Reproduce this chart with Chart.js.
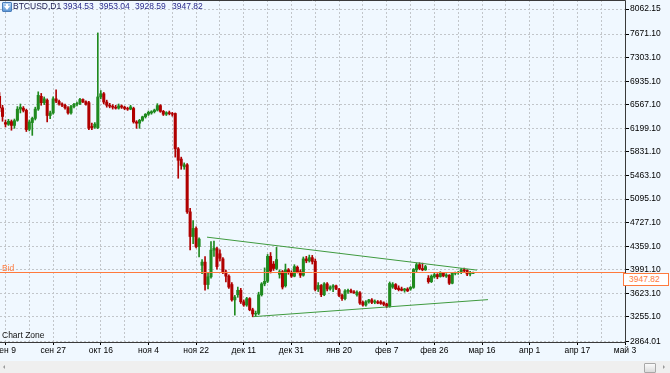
<!DOCTYPE html>
<html><head><meta charset="utf-8">
<script src="https://cdn.jsdelivr.net/npm/chart.js@4.4.1/dist/chart.umd.min.js"></script>
<style>
html,body{margin:0;padding:0;background:#F0F8FF;width:670px;height:373px;overflow:hidden;font-family:"Liberation Sans",Arial,sans-serif;}
#wrap{position:absolute;left:0;top:0;width:670px;height:361px;}
.t{position:absolute;font-size:8.5px;line-height:10px;white-space:nowrap;}
#icon{position:absolute;left:2px;top:2px;width:8px;height:8px;border:1px solid #4a7ebb;border-radius:1px;background:linear-gradient(#b9d6f2,#5d97d6);}
#icon:after{content:"";position:absolute;left:1px;top:3px;border-left:3px solid transparent;border-right:3px solid transparent;border-top:4px solid #fff;}
#icon:before{content:"";position:absolute;left:3px;top:1px;width:2px;height:3px;background:#fff;}
#bidBox{position:absolute;left:623px;border:1px solid #ff7a3d;background:#fff;color:#ff7a3d;font-size:8.5px;line-height:11px;text-align:left;padding-left:5px;box-sizing:border-box;width:46px;height:13px;}
#scroll{position:absolute;left:0;top:361px;width:670px;height:12px;background:#efefef;}
#thumb{position:absolute;left:644px;top:2px;width:10px;height:8px;border:1px solid #a8a8a8;background:linear-gradient(#fafafa,#dcdcdc);border-radius:1px;}
#la{position:absolute;left:3px;top:4px;border-top:2px solid transparent;border-bottom:2px solid transparent;border-right:2px solid #9a9a9a;}
#ra{position:absolute;left:663px;top:4px;border-top:2px solid transparent;border-bottom:2px solid transparent;border-left:2px solid #9a9a9a;}
</style></head>
<body>
<div id="wrap"><canvas id="c"></canvas></div>
<div id="icon"></div>
<div class="t" id="sym" style="left:13px;top:1px;color:#1c1c50;"></div>
<div class="t" id="v0" style="left:63px;top:1px;color:#2a2a8c;"></div>
<div class="t" id="v1" style="left:99px;top:1px;color:#2a2a8c;"></div>
<div class="t" id="v2" style="left:135px;top:1px;color:#2a2a8c;"></div>
<div class="t" id="v3" style="left:172px;top:1px;color:#2a2a8c;"></div>
<div class="t" id="zone" style="left:2px;top:330px;color:#111;">Chart Zone</div>
<div class="t" id="bidLbl" style="left:2px;color:#ff7a3d;">Bid</div>
<div id="bidBox"></div>
<div id="scroll"><div id="la"></div><div id="thumb"></div><div id="ra"></div></div>
<script>
// ---------- data ----------
const symbolName = "BTCUSD,D1";
const firstBar = -1; // bar index of the first value below
const open = [6700,6520,6290,6262,6305,6245,6325,6500,6515,6480,6185,6290,6355,6500,6700,6600,6640,6400,6440,6660,
6620,6580,6560,6520,6440,6540,6575,6590,6650,6615,6600,6230,6220,6210,6690,6740,6610,6560,6545,6530,
6515,6550,6530,6510,6500,6510,6300,6280,6325,6380,6420,6440,6460,6485,6555,6465,6420,6445,6430,6432,
5880,5720,5600,5630,4895,4510,4636,4355,4060,4110,3760,3880,4297,4320,4240,4160,3955,3890,3760,3520,
3600,3670,3490,3440,3540,3365,3300,3310,3600,3770,3810,4200,4080,4010,3920,3960,3740,3990,3950,3890,
4030,3960,3905,4160,4130,4180,4125,3690,3745,3600,3770,3690,3720,3740,3680,3590,3540,3655,3665,3645,
3600,3630,3480,3440,3490,3520,3485,3490,3490,3475,3455,3420,3720,3760,3705,3690,3670,3690,3690,3715,
3990,4070,4010,3990,3860,3805,3880,3915,3885,3935,3890,3905,3780,3935,3945,3950,3990,3980,3925,3934.53];
const high = [6760,6560,6330,6340,6330,6345,6540,6580,6540,6500,6330,6375,6530,6770,6745,6690,6660,6470,6690,6800,
6640,6600,6580,6540,6560,6590,6610,6670,6660,6630,6620,6280,6290,7690,6790,6760,6640,6590,6570,6560,
6580,6565,6545,6530,6560,6530,6320,6340,6390,6430,6470,6475,6500,6585,6570,6480,6460,6470,6450,6440,
5900,5750,5660,5650,4950,4760,4660,4490,4150,4195,3940,4430,4440,4340,4300,4180,3985,3910,3790,3590,
3720,3700,3520,3560,3555,3390,3345,3640,3790,4020,4230,4260,4120,4340,3990,3980,4080,4010,3975,4070,
4050,3990,4190,4200,4220,4215,4160,3790,3760,3790,3790,3740,3760,3750,3700,3610,3680,3690,3690,3665,
3660,3650,3500,3510,3530,3540,3520,3510,3510,3490,3470,3800,3790,3775,3740,3720,3700,3710,3730,4010,
4095,4100,4095,4060,3900,3910,3935,3930,3960,3950,3930,3915,3945,3955,3965,4010,4015,3995,3965,3953.04];
const low = [6460,6310,6220,6245,6170,6200,6310,6440,6455,6150,6160,6090,6330,6480,6560,6570,6300,6350,6420,6600,
6560,6540,6500,6420,6420,6520,6550,6570,6600,6560,6180,6180,6200,6195,6660,6580,6530,6520,6500,6500,
6500,6510,6490,6480,6490,6280,6200,6200,6310,6360,6400,6420,6440,6470,6450,6400,6400,6410,6390,5750,
5420,5560,5560,4870,4300,4400,4330,4190,3930,3670,3690,3860,4200,4000,4130,3930,3800,3700,3500,3282,
3560,3464,3420,3420,3350,3256,3270,3290,3580,3740,3790,3940,3980,3990,3860,3690,3720,3920,3870,3880,
3940,3870,3890,4100,4110,4080,3660,3650,3570,3585,3660,3670,3650,3680,3570,3510,3520,3620,3630,3620,
3580,3450,3420,3420,3470,3460,3460,3460,3450,3430,3400,3405,3700,3680,3660,3660,3640,3650,3670,3700,
3950,3990,3975,3980,3780,3790,3860,3850,3875,3880,3870,3760,3770,3910,3920,3930,3950,3900,3895,3928.59];
const close = [6520,6385,6265,6310,6245,6320,6500,6530,6480,6180,6300,6355,6500,6715,6600,6660,6400,6440,6660,6625,
6580,6560,6520,6440,6540,6575,6590,6650,6615,6575,6200,6210,6265,6690,6740,6610,6560,6545,6530,6515,
6550,6530,6510,6500,6535,6300,6280,6325,6380,6420,6450,6460,6485,6555,6465,6420,6445,6430,6420,5880,
5700,5620,5630,4895,4510,4636,4350,4470,4110,3760,3880,4297,4330,4040,4170,3955,3890,3720,3520,3565,
3670,3490,3440,3540,3365,3300,3310,3600,3770,3810,4200,3970,4010,4150,3960,3720,3990,3945,3890,4040,
3960,3905,4160,4130,4180,4120,3683,3745,3600,3770,3690,3720,3740,3690,3590,3540,3660,3670,3640,3630,
3640,3470,3440,3490,3520,3480,3500,3470,3465,3450,3420,3777,3760,3695,3680,3670,3690,3660,3715,3995,
4070,4010,3990,4040,3805,3890,3915,3880,3935,3895,3910,3780,3935,3945,3950,3990,3975,3925,3934.53,3947.82];
const timeLabels = ["сен 9","сен 27","окт 16","ноя 4","ноя 22","дек 11","дек 31","янв 20","фев 7","фев 26","мар 16","апр 1","апр 17","май 3"];
const priceTicks = [2864.01,3255.10,3623.10,3991.10,4359.10,4727.10,5095.10,5463.10,5831.10,6199.10,6567.10,6935.10,7303.10,7671.10,8062.15];
const upperTrendX = [68.66,159.3];
const upperTrendY = [4500,3985];
const lowerTrendX = [84.2,163.0];
const lowerTrendY = [3258,3524];
// ---------- end data ----------

const BULL = '#1f8a1f', BEAR = '#b00000', GRID = '#c2c6ca', BIDC = '#ff7a3d', TREND = '#3f9a3f';
const FONT = {family:'"Liberation Sans", Arial, sans-serif', size:8.5};
const last = close.length - 1;
const bidPrice = close[last];
const PX_PER_UNIT = 15.62;              // price units per pixel of the reference scale
const yMax = bidPrice + 272.5 * PX_PER_UNIT;
const yMin = yMax - 342 * PX_PER_UNIT;

document.getElementById('sym').textContent = symbolName;
[open[last], high[last], low[last], close[last]].forEach((v,i)=>{document.getElementById('v'+i).textContent = v.toFixed(2);});
document.getElementById('bidBox').textContent = bidPrice.toFixed(2);

const bodies = open.map((o,k)=>({x:k+firstBar, y:[o, close[k]]}));
const wicks = open.map((o,k)=>({x:k+firstBar, y:[low[k], high[k]]}));
const colors = open.map((o,k)=> close[k] >= o ? BULL : BEAR);

const framePlugin = {
  id:'frame',
  afterDraw(chart){
    const {ctx, chartArea:a} = chart;
    ctx.save();
    ctx.strokeStyle = '#3a3a3a'; ctx.lineWidth = 1;
    ctx.beginPath();
    ctx.moveTo(0, a.top+0.5); ctx.lineTo(a.right+0.5, a.top+0.5);
    ctx.lineTo(a.right+0.5, a.bottom+0.5); ctx.lineTo(0, a.bottom+0.5);
    ctx.stroke();
    ctx.restore();
    const y = chart.scales.y.getPixelForValue(bidPrice);
    document.getElementById('bidBox').style.top = Math.round(y+0.5)+'px';
    document.getElementById('bidLbl').style.top = Math.round(y-10)+'px';
  }
};

new Chart(document.getElementById('c'), {
  type:'bar',
  data:{datasets:[
    {type:'line', data:[{x:upperTrendX[0],y:upperTrendY[0]},{x:upperTrendX[1],y:upperTrendY[1]}], borderColor:TREND, borderWidth:1, pointRadius:0, order:0},
    {type:'line', data:[{x:lowerTrendX[0],y:lowerTrendY[0]},{x:lowerTrendX[1],y:lowerTrendY[1]}], borderColor:TREND, borderWidth:1, pointRadius:0, order:0},
    {type:'line', data:[{x:-1,y:bidPrice},{x:210,y:bidPrice}], borderColor:BIDC, borderWidth:1, pointRadius:0, order:0},
    {data:bodies, backgroundColor:colors, barThickness:2.4, grouped:false, borderWidth:0, order:1},
    {data:wicks, backgroundColor:colors, barThickness:1, grouped:false, borderWidth:0, order:2}
  ]},
  options:{
    responsive:true, maintainAspectRatio:false, animation:false, devicePixelRatio:1,
    layout:{padding:0},
    plugins:{legend:{display:false}, tooltip:{enabled:false}},
    scales:{
      x:{type:'linear', min:-0.84, max:209, offset:false,
        afterFit(s){ s.height = 19; s.paddingLeft = 0; s.paddingRight = 0; },
        afterBuildTicks(s){ const t=[]; for(let v=1; v<=209; v+=8) t.push({value:v}); s.ticks=t; },
        border:{display:false, dash:[2,2]},
        grid:{color:GRID, offset:false, drawTicks:true, tickLength:3, tickBorderDash:[], tickWidth:1,
          tickColor:(c)=> (c.tick && (c.tick.value-1)%16===0) ? '#000' : 'rgba(0,0,0,0)'},
        ticks:{autoSkip:false, maxRotation:0, minRotation:0, padding:1, color:'#000', font:FONT,
          callback:(v)=>{ const k=(v-1)/16; return Number.isInteger(k) && timeLabels[k] ? timeLabels[k] : ''; }}
      },
      y:{type:'linear', position:'right', min:yMin, max:yMax,
        afterFit(s){ s.width = 45; s.paddingTop = 0; s.paddingBottom = 0; },
        afterBuildTicks(s){ s.ticks = priceTicks.map(v=>({value:v})); },
        border:{display:false, dash:[2,2]},
        grid:{color:GRID, drawTicks:true, tickLength:4, tickColor:'#000', tickBorderDash:[], tickWidth:1},
        ticks:{padding:1, color:'#000', font:FONT, callback:(v)=>Number(v).toFixed(2)}
      }
    }
  },
  plugins:[framePlugin]
});
</script>
</body></html>
